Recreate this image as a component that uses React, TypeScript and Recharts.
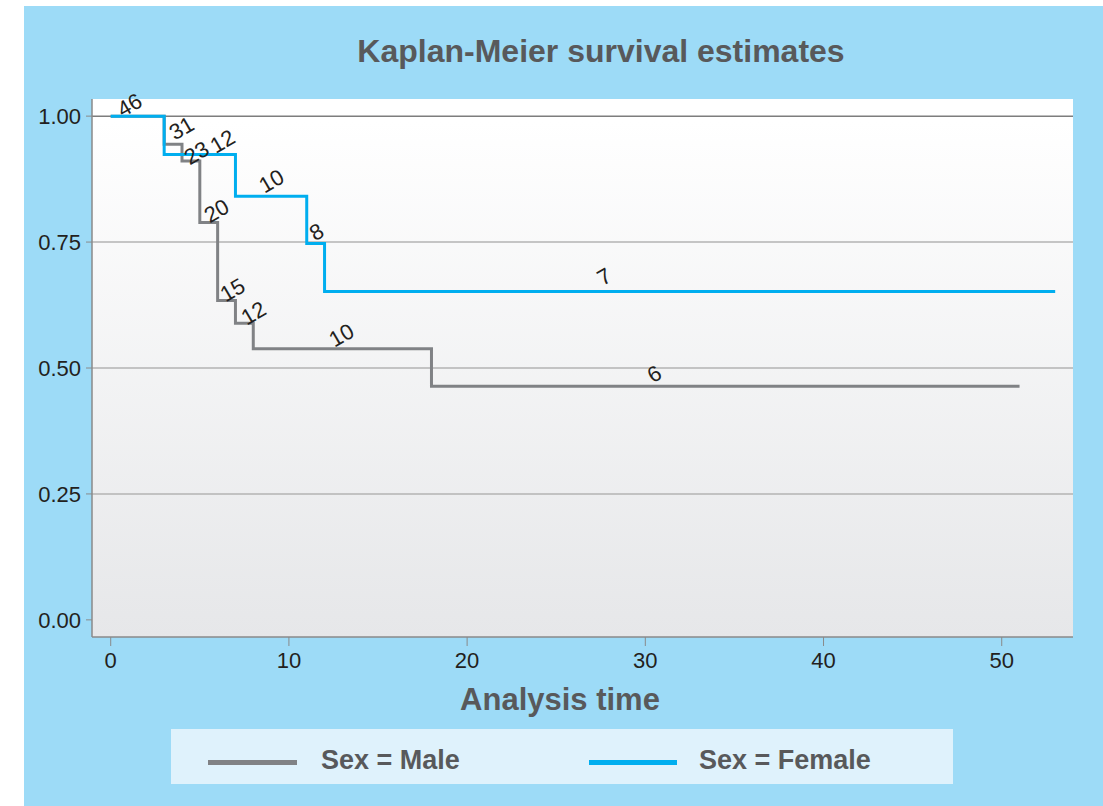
import { LineChart, Line, XAxis, YAxis, ReferenceLine } from "recharts";

// Kaplan-Meier step points (analysis time, survival)
const maleTimes = [0, 3, 4, 5, 6, 7, 8, 18, 51];
const maleSurv = [1, 0.944, 0.911, 0.789, 0.634, 0.589, 0.538, 0.464, 0.464];
const femaleTimes = [0, 3, 7, 11, 12, 53];
const femaleSurv = [1, 0.924, 0.841, 0.747, 0.652, 0.652];

// number-at-risk annotations
const riskText = ["46", "31", "23", "20", "15", "12", "10", "6", "12", "10", "8", "7"];
const riskTimes = [1.06, 3.98, 4.82, 5.94, 6.84, 8.02, 12.95, 30.5, 6.28, 9.02, 11.55, 27.7];
const riskSurv = [1.022, 0.976, 0.927, 0.812, 0.655, 0.609, 0.565, 0.488, 0.95, 0.871, 0.77, 0.681];

const xTicks = [0, 10, 20, 30, 40, 50];
const yTicks = [0, 0.25, 0.5, 0.75, 1];
const gridLevels = [0.25, 0.5, 0.75];

const maleData = maleTimes.map((t, i) => ({ t, s: maleSurv[i] }));
const femaleData = femaleTimes.map((t, i) => ({ t, s: femaleSurv[i] }));
const riskData = riskTimes.map((t, i) => ({ t, s: riskSurv[i], n: riskText[i] }));

const FONT = '"Liberation Sans", Arial, Helvetica, sans-serif';
const MALE = "#808285";
const FEMALE = "#00aeef";
const BG = "#9ddbf7";

function RiskLabel(props: any) {
  const { x, y, index } = props;
  if (x == null || y == null) return null;
  return (
    <text
      x={x}
      y={y}
      transform={`rotate(-30 ${x} ${y})`}
      textAnchor="middle"
      dominantBaseline="central"
      fontSize={22}
      fontFamily={FONT}
      fill="#231f20"
    >
      {riskText[index]}
    </text>
  );
}

export default function App() {
  return (
    <div style={{ position: "absolute", left: 0, top: 0, width: 1103, height: 806, background: "#fff", fontFamily: FONT }}>
      <div style={{ position: "absolute", left: 24, top: 6, width: 1079, height: 800, background: BG }} />
      <div
        style={{
          position: "absolute",
          left: 92,
          top: 99,
          width: 981,
          height: 538,
          background: "linear-gradient(#ffffff 0%, #ffffff 4%, #e6e7e9 100%)",
        }}
      />
      <div
        style={{
          position: "absolute",
          left: 301,
          width: 600,
          top: 31,
          textAlign: "center",
          fontSize: 32,
          fontWeight: "bold",
          color: "#58595b",
          lineHeight: "40px",
        }}
      >
        Kaplan-Meier survival estimates
      </div>

      <div style={{ position: "absolute", left: 0, top: 0 }}>
        <LineChart width={1103} height={806} margin={{ top: 99, right: 30, bottom: 129, left: 0 }}>
          {gridLevels.map((v) => (
            <ReferenceLine key={v} y={v} stroke="#b3b3b3" strokeWidth={1.5} />
          ))}
          <ReferenceLine y={1} stroke="#7d7d7d" strokeWidth={1.5} />
          <XAxis
            type="number"
            dataKey="t"
            domain={[-1.05, 54]}
            ticks={xTicks}
            allowDataOverflow
            height={40}
            tickSize={9}
            tickMargin={6}
            axisLine={{ stroke: "#8a8a8a", strokeWidth: 1.5 }}
            tickLine={{ stroke: "#8a8a8a" }}
            tick={{ fill: "#231f20", fontSize: 22, fontFamily: FONT }}
          />
          <YAxis
            type="number"
            dataKey="s"
            domain={[-0.034, 1.034]}
            ticks={yTicks}
            allowDataOverflow
            width={92}
            tickSize={6}
            tickMargin={5}
            tickFormatter={(v: number) => v.toFixed(2)}
            axisLine={{ stroke: "#8a8a8a", strokeWidth: 1.5 }}
            tickLine={{ stroke: "#8a8a8a" }}
            tick={{ fill: "#231f20", fontSize: 22, fontFamily: FONT }}
          />
          <Line
            data={maleData}
            dataKey="s"
            type="stepAfter"
            stroke={MALE}
            strokeWidth={3}
            dot={false}
            isAnimationActive={false}
          />
          <Line
            data={femaleData}
            dataKey="s"
            type="stepAfter"
            stroke={FEMALE}
            strokeWidth={3}
            dot={false}
            isAnimationActive={false}
          />
          <Line
            data={riskData}
            dataKey="s"
            stroke="none"
            dot={false}
            activeDot={false}
            isAnimationActive={false}
            label={(p: any) => <RiskLabel key={p.index} {...p} />}
          />
        </LineChart>
      </div>

      <div
        style={{
          position: "absolute",
          left: 360,
          width: 400,
          top: 680,
          textAlign: "center",
          fontSize: 31,
          fontWeight: "bold",
          color: "#58595b",
          lineHeight: "40px",
        }}
      >
        Analysis time
      </div>

      <div style={{ position: "absolute", left: 171, top: 729, width: 782, height: 55, background: "#dff2fc" }}>
        <div style={{ position: "absolute", left: 37, top: 31, width: 89, height: 5, background: MALE }} />
        <div style={{ position: "absolute", left: 150, top: 16, fontSize: 27, fontWeight: "bold", color: "#58595b", lineHeight: "30px" }}>
          Sex = Male
        </div>
        <div style={{ position: "absolute", left: 418, top: 31, width: 88, height: 5, background: FEMALE }} />
        <div style={{ position: "absolute", left: 528, top: 16, fontSize: 27, fontWeight: "bold", color: "#58595b", lineHeight: "30px" }}>
          Sex = Female
        </div>
      </div>
    </div>
  );
}
